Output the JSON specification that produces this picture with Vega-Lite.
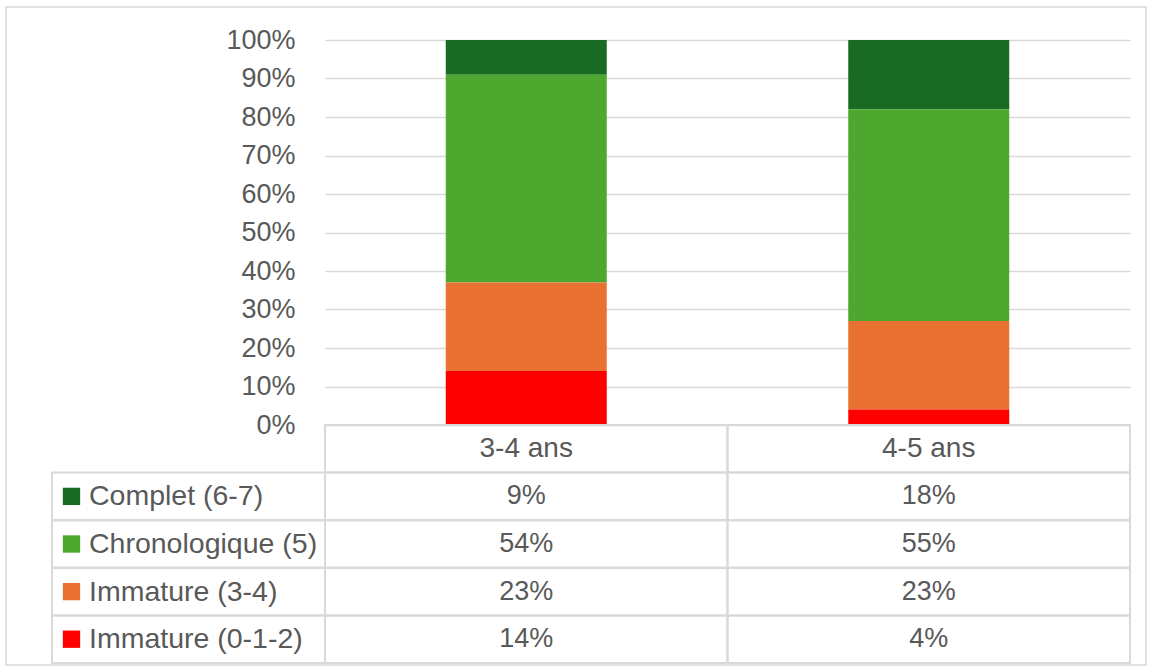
{
  "$schema": "https://vega.github.io/schema/vega-lite/v6.json",
  "width": 1140,
  "height": 658,
  "autosize": {"type": "none"},
  "padding": {"left": 6, "top": 7, "right": 6, "bottom": 5},
  "background": "white",
  "config": {
    "view": {"stroke": "#d9d9d9", "strokeWidth": 1.5},
    "font": "Liberation Sans",
    "text": {"font": "Liberation Sans", "fill": "#595959"}
  },
  "datasets": {
    "bars": [
      {"age": "3-4 ans", "series": "Complet (6-7)", "value": 0.09},
      {"age": "3-4 ans", "series": "Chronologique (5)", "value": 0.54},
      {"age": "3-4 ans", "series": "Immature (3-4)", "value": 0.23},
      {"age": "3-4 ans", "series": "Immature (0-1-2)", "value": 0.14},
      {"age": "4-5 ans", "series": "Complet (6-7)", "value": 0.18},
      {"age": "4-5 ans", "series": "Chronologique (5)", "value": 0.55},
      {"age": "4-5 ans", "series": "Immature (3-4)", "value": 0.23},
      {"age": "4-5 ans", "series": "Immature (0-1-2)", "value": 0.04}
    ],
    "ages": [{"age": "3-4 ans"}, {"age": "4-5 ans"}],
    "series": [
      {"series": "Complet (6-7)"},
      {"series": "Chronologique (5)"},
      {"series": "Immature (3-4)"},
      {"series": "Immature (0-1-2)"}
    ]
  },
  "resolve": {"scale": {"x": "independent", "y": "independent"}, "axis": {"x": "independent", "y": "independent"}},
  "layer": [
    {
      "data": {"name": "bars"},
      "transform": [
        {"calculate": "indexof(['Immature (0-1-2)', 'Immature (3-4)', 'Chronologique (5)', 'Complet (6-7)'], datum.series)", "as": "stackRank"}
      ],
      "mark": {"type": "bar"},
      "encoding": {
        "x": {"field": "age", "type": "nominal", "scale": {"domain": ["3-4 ans", "4-5 ans"], "range": [319, 1124], "paddingInner": 0.6, "paddingOuter": 0.3}, "axis": null},
        "y": {
          "field": "value", "type": "quantitative", "stack": "zero",
          "scale": {"domain": [0, 1], "range": [418, 33], "nice": false, "zero": true},
          "axis": {
            "format": ".0%", "values": [0, 0.1, 0.2, 0.3, 0.4, 0.5, 0.6, 0.7, 0.8, 0.9, 1],
            "offset": -319, "domain": false, "ticks": false, "labelPadding": 30,
            "labelFontSize": 27, "labelColor": "#595959", "labelFont": "Liberation Sans",
            "gridColor": "#d9d9d9", "gridWidth": 1.5, "title": null
          }
        },
        "order": {"field": "stackRank", "type": "quantitative", "sort": "ascending"},
        "color": {
          "field": "series", "type": "nominal",
          "scale": {
            "domain": ["Immature (0-1-2)", "Immature (3-4)", "Chronologique (5)", "Complet (6-7)"],
            "range": ["#ff0000", "#e97132", "#4ea72e", "#196b24"]
          },
          "legend": null
        }
      }
    },
    {
      "data": {"name": "bars"},
      "mark": {"type": "rect", "fill": "transparent", "stroke": "#d9d9d9", "strokeWidth": 2},
      "encoding": {
        "x": {"field": "age", "type": "nominal", "scale": {"domain": ["3-4 ans", "4-5 ans"], "range": [319, 1124], "paddingInner": 0, "paddingOuter": 0}, "axis": null},
        "y": {"field": "series", "type": "nominal", "scale": {"domain": ["header", "Complet (6-7)", "Chronologique (5)", "Immature (3-4)", "Immature (0-1-2)"], "range": [418, 656], "paddingInner": 0, "paddingOuter": 0}, "axis": null}
      }
    },
    {
      "data": {"name": "ages"},
      "mark": {"type": "rect", "fill": "transparent", "stroke": "#d9d9d9", "strokeWidth": 2},
      "encoding": {
        "x": {"field": "age", "type": "nominal", "scale": {"domain": ["3-4 ans", "4-5 ans"], "range": [319, 1124], "paddingInner": 0, "paddingOuter": 0}, "axis": null},
        "y": {"datum": "header", "type": "nominal", "scale": {"domain": ["header", "Complet (6-7)", "Chronologique (5)", "Immature (3-4)", "Immature (0-1-2)"], "range": [418, 656], "paddingInner": 0, "paddingOuter": 0}, "axis": null}
      }
    },
    {
      "data": {"name": "bars"},
      "mark": {"type": "text", "fontSize": 27, "fill": "#595959", "align": "center", "baseline": "middle"},
      "encoding": {
        "x": {"field": "age", "type": "nominal", "scale": {"domain": ["3-4 ans", "4-5 ans"], "range": [319, 1124], "paddingInner": 0, "paddingOuter": 0}, "axis": null},
        "y": {"field": "series", "type": "nominal", "scale": {"domain": ["header", "Complet (6-7)", "Chronologique (5)", "Immature (3-4)", "Immature (0-1-2)"], "range": [418, 656], "paddingInner": 0, "paddingOuter": 0}, "axis": null},
        "text": {"field": "value", "type": "quantitative", "format": ".0%"}
      }
    },
    {
      "data": {"name": "ages"},
      "mark": {"type": "text", "fontSize": 28, "fill": "#595959", "align": "center", "baseline": "middle"},
      "encoding": {
        "x": {"field": "age", "type": "nominal", "scale": {"domain": ["3-4 ans", "4-5 ans"], "range": [319, 1124], "paddingInner": 0, "paddingOuter": 0}, "axis": null},
        "y": {"datum": "header", "type": "nominal", "scale": {"domain": ["header", "Complet (6-7)", "Chronologique (5)", "Immature (3-4)", "Immature (0-1-2)"], "range": [418, 656], "paddingInner": 0, "paddingOuter": 0}, "axis": null},
        "text": {"field": "age", "type": "nominal"}
      }
    },
    {
      "data": {"name": "series"},
      "mark": {"type": "rect", "fill": "transparent", "stroke": "#d9d9d9", "strokeWidth": 2},
      "encoding": {
        "x": {"datum": 0, "type": "quantitative", "scale": {"domain": [0, 1], "range": [46, 319], "nice": false, "zero": false}, "axis": null},
        "x2": {"datum": 1},
        "y": {"field": "series", "type": "nominal", "scale": {"domain": ["header", "Complet (6-7)", "Chronologique (5)", "Immature (3-4)", "Immature (0-1-2)"], "range": [418, 656], "paddingInner": 0, "paddingOuter": 0}, "axis": null}
      }
    },
    {
      "data": {"name": "series"},
      "mark": {"type": "point", "shape": "square", "filled": true, "opacity": 1, "size": 300},
      "encoding": {
        "x": {"datum": 0.0714, "type": "quantitative", "scale": {"domain": [0, 1], "range": [46, 319], "nice": false, "zero": false}, "axis": null},
        "y": {"field": "series", "type": "nominal", "scale": {"domain": ["header", "Complet (6-7)", "Chronologique (5)", "Immature (3-4)", "Immature (0-1-2)"], "range": [418, 656], "paddingInner": 0, "paddingOuter": 0}, "axis": null},
        "color": {"field": "series", "type": "nominal", "legend": null}
      }
    },
    {
      "data": {"name": "series"},
      "mark": {"type": "text", "fontSize": 28.5, "fill": "#595959", "align": "left", "baseline": "middle"},
      "encoding": {
        "x": {"datum": 0.1355, "type": "quantitative", "scale": {"domain": [0, 1], "range": [46, 319], "nice": false, "zero": false}, "axis": null},
        "y": {"field": "series", "type": "nominal", "scale": {"domain": ["header", "Complet (6-7)", "Chronologique (5)", "Immature (3-4)", "Immature (0-1-2)"], "range": [418, 656], "paddingInner": 0, "paddingOuter": 0}, "axis": null},
        "text": {"field": "series", "type": "nominal"}
      }
    }
  ]
}
